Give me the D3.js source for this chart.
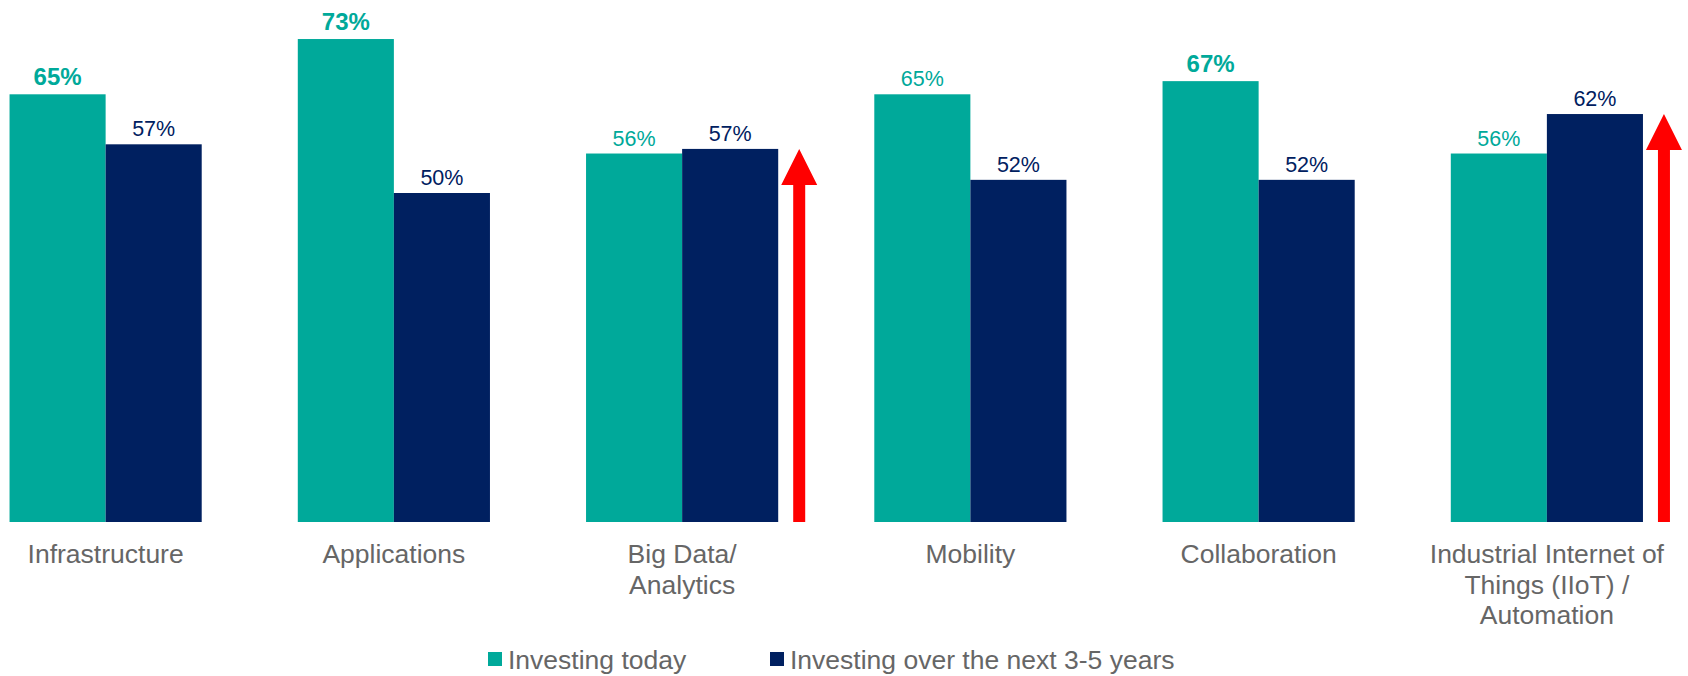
<!DOCTYPE html>
<html><head><meta charset="utf-8">
<script src="https://cdn.jsdelivr.net/npm/d3@7/dist/d3.min.js"></script>
<style>html,body{margin:0;padding:0;background:#fff;overflow:hidden}</style>
</head><body>
<script>
const categories = ["Infrastructure", "Applications", "Big Data/\nAnalytics", "Mobility", "Collaboration", "Industrial Internet of\nThings (IIoT) /\nAutomation"];
const seriesNames = ["Investing today", "Investing over the next 3-5 years"];
const today = [65, 73.4, 56, 65, 67, 56];
const future = [57.4, 50, 56.7, 52, 52, 62];
const boldToday = [true, true, false, false, true, false];
const colors = ["#00A99A", "#002060"];

const W = 1688, H = 676;
const svg = d3.select("body").append("svg").attr("width", W).attr("height", H)
  .style("font-family", "Arial, 'Liberation Sans', sans-serif");

const x0 = d3.scaleBand().domain(categories).range([-38.5, 1691]).paddingInner(1/3).paddingOuter(1/6);
const x1 = d3.scaleBand().domain([0, 1]).range([0, x0.bandwidth()]);
const y = d3.scaleLinear().domain([0, 80]).range([522, -4.4]);

const data = categories.map((c, i) => ({c, i, vals: [today[i], future[i]]}));

const g = svg.selectAll("g.grp").data(data).join("g").attr("class", "grp")
  .attr("transform", d => `translate(${x0(d.c)},0)`);

g.selectAll("rect").data(d => d.vals.map((v, s) => ({v, s}))).join("rect")
  .attr("x", d => x1(d.s)).attr("width", x1.bandwidth())
  .attr("y", d => y(d.v)).attr("height", d => y(0) - y(d.v))
  .attr("fill", d => colors[d.s]);

g.selectAll("text.val").data(d => d.vals.map((v, s) => ({v, s, bold: s === 0 && boldToday[d.i]}))).join("text")
  .attr("class", "val")
  .attr("x", d => x1(d.s) + x1.bandwidth() / 2)
  .attr("y", d => y(d.v) - (d.bold ? 9 : 8))
  .attr("text-anchor", "middle")
  .attr("fill", d => colors[d.s])
  .attr("font-size", d => d.bold ? 24 : 21.5)
  .attr("font-weight", d => d.bold ? "bold" : "normal")
  .text(d => Math.round(d.v) + "%");

// red arrows where future investment exceeds today
const arrowData = data.filter(d => d.vals[1] > d.vals[0]);
const headW = 36, headH = 36, shaftW = 12;
svg.selectAll("path.arrow").data(arrowData).join("path").attr("class", "arrow")
  .attr("fill", "#FF0000")
  .attr("d", d => {
    const cx = x0(d.c) + x0.bandwidth() + 21;
    const top = y(d.vals[1]);
    const base = y(0);
    return `M${cx - shaftW/2},${base} L${cx - shaftW/2},${top + headH} L${cx - headW/2},${top + headH} L${cx},${top} L${cx + headW/2},${top + headH} L${cx + shaftW/2},${top + headH} L${cx + shaftW/2},${base} Z`;
  });

// category labels
svg.selectAll("text.cat").data(data).join("text").attr("class", "cat")
  .attr("x", d => x0(d.c) + x0.bandwidth() / 2)
  .attr("y", 563)
  .attr("text-anchor", "middle")
  .attr("fill", "#666666")
  .attr("font-size", 26.5)
  .each(function(d) {
    const lines = d.c.split("\n");
    d3.select(this).selectAll("tspan").data(lines).join("tspan")
      .attr("x", x0(d.c) + x0.bandwidth() / 2)
      .attr("dy", (l, k) => k === 0 ? 0 : 30.5)
      .text(l => l);
  });

// legend
const legendX = [488, 770];
const lg = svg.selectAll("g.leg").data(seriesNames).join("g").attr("class", "leg")
  .attr("transform", (d, i) => `translate(${legendX[i]},0)`);
lg.append("rect").attr("x", 0).attr("y", 652).attr("width", 14).attr("height", 14)
  .attr("fill", (d, i) => colors[i]);
lg.append("text").attr("x", 20).attr("y", 669).attr("fill", "#666666").attr("font-size", 26.5).text(d => d);
</script>
</body></html>
